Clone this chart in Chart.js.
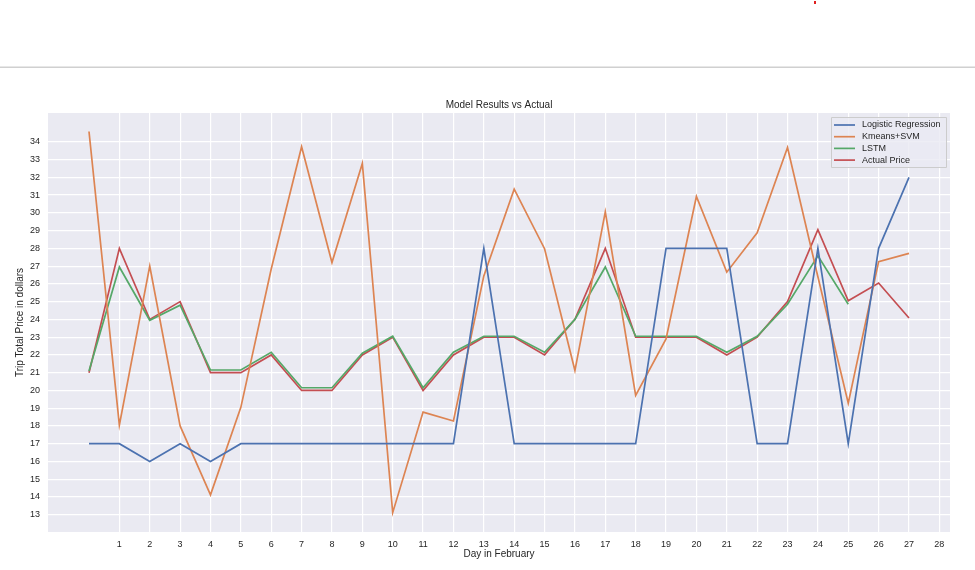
<!DOCTYPE html>
<html>

<head>
    <title>Model Results vs Actual</title>
    <script src="https://cdn.jsdelivr.net/npm/chart.js"></script>
    <style>
        body { margin: 0; background: #fff; }
    </style>
</head>

<body>
    <canvas id="myChart" width="975" height="570"></canvas>

    <script>
        // day index 0..27
        var days = [0, 1, 2, 3, 4, 5, 6, 7, 8, 9, 10, 11, 12, 13, 14, 15, 16, 17, 18, 19, 20, 21, 22, 23, 24, 25, 26, 27];
        var xTickLabels = [1, 2, 3, 4, 5, 6, 7, 8, 9, 10, 11, 12, 13, 14, 15, 16, 17, 18, 19, 20, 21, 22, 23, 24, 25, 26, 27, 28];
        var yTickLabels = [13, 14, 15, 16, 17, 18, 19, 20, 21, 22, 23, 24, 25, 26, 27, 28, 29, 30, 31, 32, 33, 34];

        var logistic = [17, 17, 16, 17, 16, 17, 17, 17, 17, 17, 17, 17, 17, 28, 17, 17, 17, 17, 17, 28, 28, 28, 17, 17, 28, 17, 28, 32];
        var kmeansSvm = [34.58, 18.05, 27, 18, 14.12, 19.05, 26.84, 33.72, 27.2, 32.78, 13.12, 18.78, 18.28, 26.45, 31.33, 27.98, 21.12, 30.05, 19.72, 22.9, 30.92, 26.66, 28.88, 33.68, 26.4, 19.28, 27.25, 27.72];
        var lstm = [21.1, 26.95, 23.95, 24.8, 21.15, 21.15, 22.15, 20.15, 20.15, 22.1, 23.05, 20.15, 22.15, 23.05, 23.05, 22.15, 24, 26.95, 23.05, 23.05, 23.05, 22.15, 23.05, 24.85, 27.58, 24.85];
        var actual = [21, 28, 24, 25, 21, 21, 22, 20, 20, 22, 23, 20, 22, 23, 23, 22, 24, 28, 23, 23, 23, 22, 23, 25, 29.05, 25.05, 26.05, 24.08];

        function toPoints(values) {
            return values.map(function (v, i) { return { x: days[i], y: v }; });
        }

        var font = "'Liberation Sans', Arial, sans-serif";
        var textColor = '#262626';

        // page decoration, title, axis titles and legend box drawn on the canvas
        var extras = {
            id: 'extras',
            beforeDraw: function (chart) {
                var c = chart.ctx;
                c.save();
                c.fillStyle = '#ffffff';
                c.fillRect(0, 0, chart.width, chart.height);
                c.fillStyle = '#d0d0d0';
                c.fillRect(0, 66.5, chart.width, 1.5);
                c.fillStyle = '#e02020';
                c.fillRect(814, 1, 2, 3);
                var a = chart.chartArea;
                c.fillStyle = '#EAEAF2';
                c.fillRect(a.left, a.top, a.right - a.left, a.bottom - a.top);
                c.restore();
            },
            afterDraw: function (chart) {
                var c = chart.ctx;
                var a = chart.chartArea;
                c.save();
                c.fillStyle = textColor;
                c.textAlign = 'center';
                c.textBaseline = 'middle';
                c.font = '10px ' + font;
                c.fillText('Model Results vs Actual', (a.left + a.right) / 2, 105.5);
                c.fillText('Day in February', (a.left + a.right) / 2, 554);
                c.translate(20, (a.top + a.bottom) / 2);
                c.rotate(-Math.PI / 2);
                c.fillText('Trip Total Price in dollars', 0, 0);
                c.restore();

                // legend
                c.save();
                var lx = 831, ly = 117, lw = 115, lh = 50;
                c.fillStyle = 'rgba(234,234,242,0.8)';
                c.strokeStyle = '#cccccc';
                c.lineWidth = 1;
                c.beginPath();
                c.rect(lx + 0.5, ly + 0.5, lw, lh);
                c.fill();
                c.stroke();
                c.font = '9px ' + font;
                c.textAlign = 'left';
                c.textBaseline = 'middle';
                chart.data.datasets.forEach(function (ds, i) {
                    var y = ly + 8 + i * 11.7;
                    c.strokeStyle = ds.borderColor;
                    c.lineWidth = 1.7;
                    c.beginPath();
                    c.moveTo(lx + 3, y);
                    c.lineTo(lx + 24, y);
                    c.stroke();
                    c.fillStyle = textColor;
                    c.fillText(ds.label, lx + 31, y);
                });
                c.restore();
            }
        };

        var ctx = document.getElementById('myChart').getContext('2d');

        var myChart = new Chart(ctx, {
            type: 'line',
            data: {
                datasets: [
                    { label: 'Logistic Regression', data: toPoints(logistic), borderColor: '#4C72B0' },
                    { label: 'Kmeans+SVM', data: toPoints(kmeansSvm), borderColor: '#DD8452' },
                    { label: 'LSTM', data: toPoints(lstm), borderColor: '#55A868' },
                    { label: 'Actual Price', data: toPoints(actual), borderColor: '#C44E52' }
                ]
            },
            options: {
                responsive: false,
                animation: false,
                events: [],
                layout: { padding: { top: 113, right: 25, left: 0, bottom: 0 } },
                elements: {
                    line: { borderWidth: 1.7, tension: 0, fill: false },
                    point: { radius: 0 }
                },
                plugins: {
                    legend: { display: false },
                    title: { display: false },
                    tooltip: { enabled: false }
                },
                scales: {
                    x: {
                        type: 'linear',
                        min: -1.35,
                        max: 28.35,
                        afterBuildTicks: function (scale) {
                            scale.ticks = xTickLabels.map(function (v) { return { value: v }; });
                        },
                        afterFit: function (scale) { scale.height = 38; },
                        grid: { color: '#ffffff', lineWidth: 1.2, drawTicks: false },
                        border: { display: false },
                        ticks: { color: textColor, font: { family: font, size: 9 }, padding: 7, maxRotation: 0, autoSkip: false }
                    },
                    y: {
                        min: 12.03,
                        max: 35.62,
                        afterBuildTicks: function (scale) {
                            scale.ticks = yTickLabels.map(function (v) { return { value: v }; });
                        },
                        afterFit: function (scale) { scale.width = 48; },
                        grid: { color: '#ffffff', lineWidth: 1.2, drawTicks: false },
                        border: { display: false },
                        ticks: { color: textColor, font: { family: font, size: 9 }, padding: 8, autoSkip: false }
                    }
                }
            },
            plugins: [extras]
        });
    </script>

</body>

</html>
